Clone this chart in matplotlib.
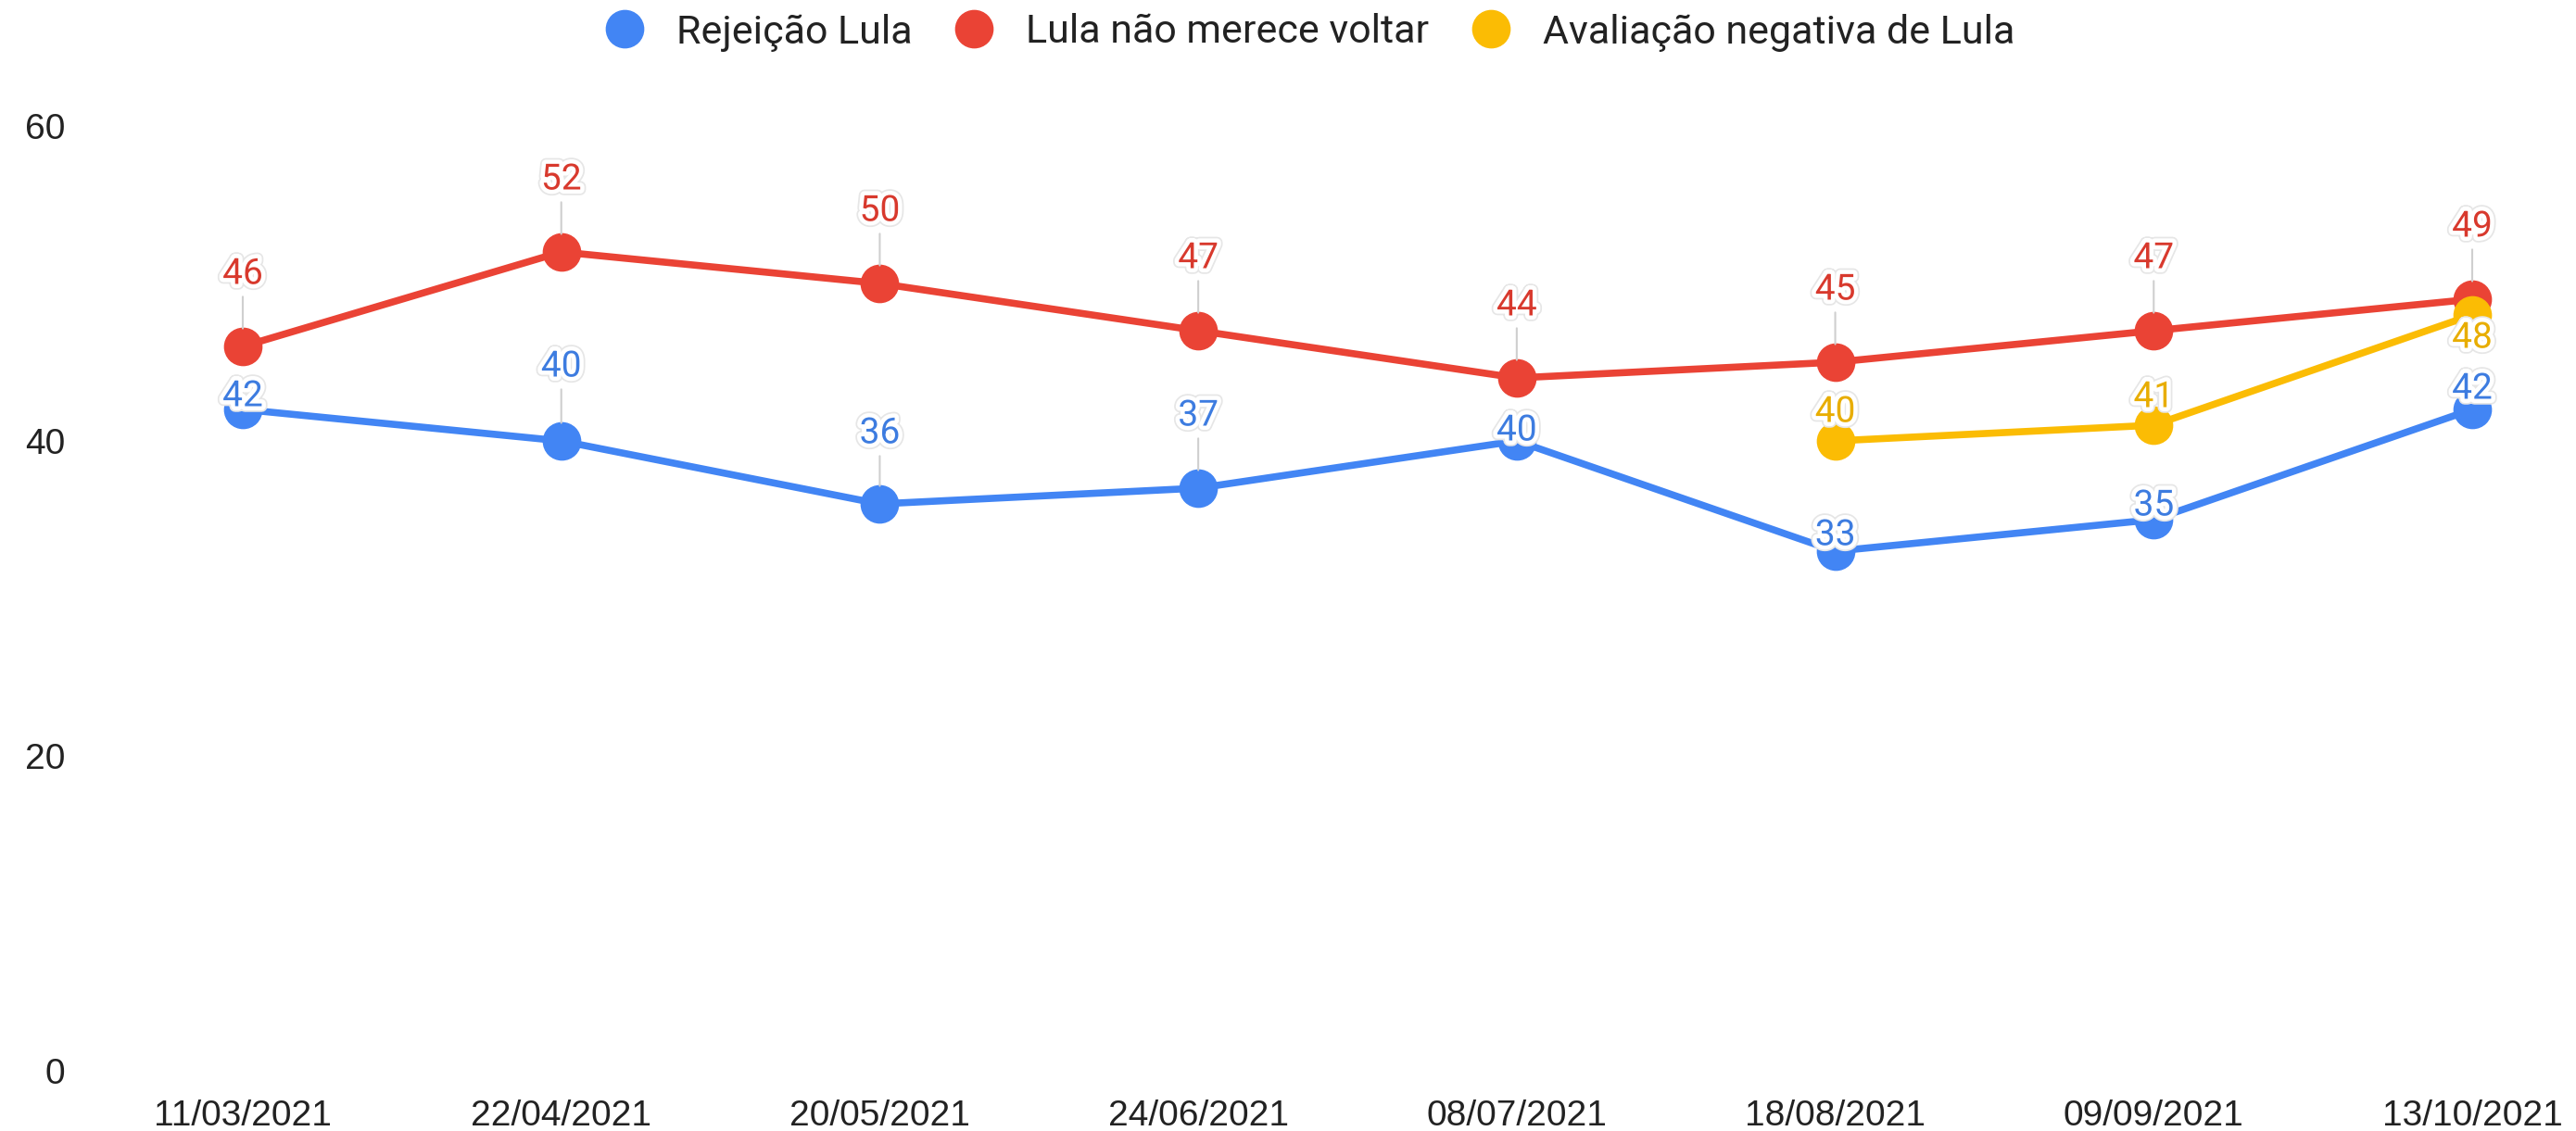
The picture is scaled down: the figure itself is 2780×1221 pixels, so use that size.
import matplotlib
matplotlib.use('Agg')
import matplotlib.pyplot as plt
import matplotlib.patheffects as pe
from matplotlib.lines import Line2D
import numpy as np

# dados
datas = ['11/03/2021', '22/04/2021', '20/05/2021', '24/06/2021',
         '08/07/2021', '18/08/2021', '09/09/2021', '13/10/2021']
rejeicao = [42, 40, 36, 37, 40, 33, 35, 42]
nao_merece = [46, 52, 50, 47, 44, 45, 47, 49]
avaliacao_neg = [np.nan, np.nan, np.nan, np.nan, np.nan, 40, 41, 48]
nomes = ['Rejeição Lula', 'Lula não merece voltar', 'Avaliação negativa de Lula']

cores = ['#4285F4', '#EA4335', '#FBBC04']
cores_rotulo = ['#3d7ce0', '#d8392d', '#e8ad00']

# deslocamento dos rótulos (pixels acima do ponto)
desloc = [
    [14, 80, 76, 78, 11, 17, 15, 22],
    [78, 78, 78, 78, 78, 78, 78, 78],
    [0, 0, 0, 0, 0, 31, 30, -25],
]

plt.rcParams['font.family'] = ['Roboto', 'DejaVu Sans']

fig = plt.figure(figsize=(27.8, 12.21), dpi=100)
ax = fig.add_axes([262 / 2780, 1 - 1156 / 1221, 2406 / 2780, (1156 - 136) / 1221])

x = np.arange(len(datas))
series = [rejeicao, nao_merece, avaliacao_neg]
for k, (s, c) in enumerate(zip(series, cores)):
    ax.plot(x, s, color=c, lw=5.5, marker='o', markersize=29, zorder=2 + k,
            clip_on=False, solid_joinstyle='round')

halo = [pe.Stroke(linewidth=9, foreground='#e6e6e6'),
        pe.Stroke(linewidth=6.5, foreground='white'), pe.Normal()]

for k, s in enumerate(series):
    for i, v in enumerate(s):
        if np.isnan(v):
            continue
        off = desloc[k][i] * 0.72
        arrow = None
        if off > 30:
            arrow = dict(arrowstyle='-', color='#cfcfcf', lw=1.5,
                         shrinkA=0, shrinkB=14, relpos=(0.5, 0))
        t = ax.annotate(str(int(v)), xy=(i, v), xytext=(0, off),
                        textcoords='offset points', ha='center', va='center',
                        fontsize=28, color=cores_rotulo[k], zorder=10,
                        annotation_clip=False, arrowprops=arrow,
                        bbox=dict(boxstyle='square,pad=0.15', fc='none', ec='none'))
        t.set_path_effects(halo)

ax.set_ylim(0, 60)
ax.set_xlim(0, len(datas) - 1)
ax.set_yticks([0, 20, 40, 60])
ax.set_xticks(x)
ax.set_xticklabels(datas)
for sp in ax.spines.values():
    sp.set_visible(False)
ax.tick_params(axis='both', length=0, labelsize=28, labelcolor='#222222')
ax.tick_params(axis='y', pad=138)
ax.tick_params(axis='x', pad=22)
for lab in ax.get_xticklabels() + ax.get_yticklabels():
    lab.set_fontfamily(['Liberation Sans', 'DejaVu Sans'])

handles = [Line2D([], [], ls='none', marker='o', markersize=29, color=c) for c in cores]
fig.legend(handles, nomes, loc='center', bbox_to_anchor=(0.5045, 1 - 35 / 1221),
           ncol=3, frameon=False, fontsize=31, handletextpad=0.3,
           columnspacing=0.55, labelcolor='#222222')

fig.savefig('out.png', dpi=100)
